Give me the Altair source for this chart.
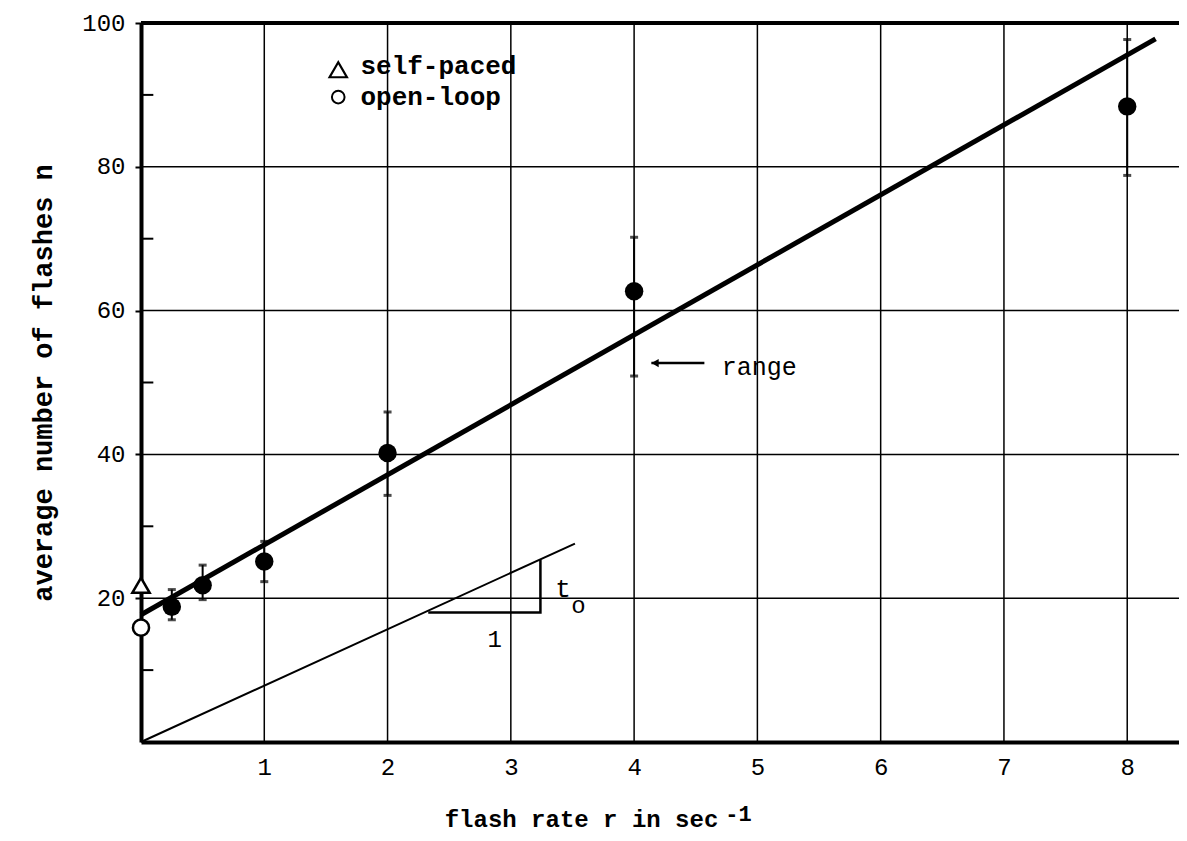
import altair as alt
import pandas as pd

# ---------------- data ----------------
rate = [0.25, 0.5, 1.0, 2.0, 4.0, 8.0]
mean_n = [18.8, 21.8, 25.1, 40.2, 62.7, 88.4]
range_lo = [17.0, 19.8, 22.3, 34.3, 50.9, 78.8]
range_hi = [21.2, 24.6, 27.9, 45.9, 70.2, 97.7]

selfpaced_r = [0.0]
selfpaced_n = [21.8]
openloop_r = [0.0]
openloop_n = [15.9]

fit_r = [0.0, 8.23]
fit_n = [17.7, 97.8]

slope_r = [0.0, 3.52]
slope_n = [0.0, 27.6]

tri_r = [2.33, 3.24, 3.24]
tri_n = [18.0, 18.0, 25.3]

grid_x = [1, 2, 3, 4, 5, 6, 7, 8]
grid_y = [20, 40, 60, 80]
minor_y = [10, 30, 50, 70, 90]
x_ticks = [1, 2, 3, 4, 5, 6, 7, 8]
y_ticks = [20, 40, 60, 80, 100]

XMAX = 8.42
FONT = "Liberation Mono"

xs = alt.Scale(domain=[0, XMAX], nice=False, zero=False)
ys = alt.Scale(domain=[0, 100], nice=False, zero=False)

xaxis = alt.Axis(values=x_ticks, grid=False, ticks=False, domainWidth=4,
                 domainColor="black", labelFont=FONT, labelFontSize=24,
                 labelColor="black", labelPadding=13,
                 title="flash rate r in sec", titleFont=FONT, titleFontSize=24,
                 titleFontWeight="bold", titleColor="black",
                 titleX=440, titleY=84, titleAlign="center", titleBaseline="alphabetic")
yaxis = alt.Axis(values=y_ticks, grid=False, ticks=True, tickSize=6, tickWidth=2,
                 tickColor="black", domainWidth=4, domainColor="black",
                 labelFont=FONT, labelFontSize=24, labelColor="black", labelPadding=10,
                 title="average number of flashes n", titleFont=FONT, titleFontSize=27,
                 titleFontWeight="bold", titleColor="black", titlePadding=24)


def X(f, **kw):
    return alt.X(f, type="quantitative", scale=xs, axis=xaxis, **kw)


def Y(f, **kw):
    return alt.Y(f, type="quantitative", scale=ys, axis=yaxis, **kw)


def X2(f):
    return alt.X2(f)


def Y2(f):
    return alt.Y2(f)


pts = pd.DataFrame({"r": rate, "n": mean_n, "lo": range_lo, "hi": range_hi})
gx = pd.DataFrame({"gx": grid_x, "y0": 0, "y1": 100})
gy = pd.DataFrame({"gy": grid_y, "x0": 0, "x1": XMAX})
top = pd.DataFrame({"gy": [100], "x0": [0], "x1": [XMAX]})
mn = pd.DataFrame({"gy": minor_y, "x0": 0, "x1": 0.1})
fit = pd.DataFrame({"r": fit_r, "n": fit_n})
slope = pd.DataFrame({"r": slope_r, "n": slope_n})
tri = pd.DataFrame({"r": tri_r, "n": tri_n, "o": [0, 1, 2]})
sp = pd.DataFrame({"r": selfpaced_r, "n": selfpaced_n})
ol = pd.DataFrame({"r": openloop_r, "n": openloop_n})

# annotation anchors (data coordinates)
leg_sym = pd.DataFrame({"r": [1.6], "n": [93.5]})
leg_circ = pd.DataFrame({"r": [1.6], "n": [89.7]})
leg_txt = pd.DataFrame({"r": [1.78, 1.78], "n": [94.0, 89.7],
                        "t": ["self-paced", "open-loop"]})
range_txt = pd.DataFrame({"r": [4.71], "n": [52.2], "t": ["range"]})
arrow = pd.DataFrame({"r": [4.14, 4.57], "n": [52.7, 52.7]})
arrow_head = pd.DataFrame({"r": [4.17], "n": [52.7]})
t_lbl = pd.DataFrame({"r": [3.36], "n": [21.3], "t": ["t"]})
o_lbl = pd.DataFrame({"r": [3.49], "n": [18.9], "t": ["o"]})
one_lbl = pd.DataFrame({"r": [2.87], "n": [14.2], "t": ["1"]})
sup_lbl = pd.DataFrame({"r": [4.74], "n": [-10.0], "t": ["-1"]})

layers = [
    alt.Chart(gx).mark_rule(color="black", strokeWidth=1.5).encode(
        x=X("gx"), y=Y("y0"), y2=Y2("y1")),
    alt.Chart(gy).mark_rule(color="black", strokeWidth=1.5).encode(
        y=Y("gy"), x=X("x0"), x2=X2("x1")),
    alt.Chart(top).mark_rule(color="black", strokeWidth=4).encode(
        y=Y("gy"), x=X("x0"), x2=X2("x1")),
    alt.Chart(mn).mark_rule(color="black", strokeWidth=2).encode(
        y=Y("gy"), x=X("x0"), x2=X2("x1")),
    alt.Chart(fit).mark_line(color="black", strokeWidth=5).encode(x=X("r"), y=Y("n")),
    alt.Chart(slope).mark_line(color="black", strokeWidth=2).encode(x=X("r"), y=Y("n")),
    alt.Chart(tri).mark_line(color="black", strokeWidth=2.5).encode(
        x=X("r"), y=Y("n"), order="o:Q"),
    alt.Chart(pts).mark_rule(color="black", strokeWidth=2).encode(
        x=X("r"), y=Y("lo"), y2=Y2("hi")),
    alt.Chart(pts).mark_tick(color="black", thickness=3, size=8, orient="horizontal").encode(
        x=X("r"), y=Y("lo")),
    alt.Chart(pts).mark_tick(color="black", thickness=3, size=8, orient="horizontal").encode(
        x=X("r"), y=Y("hi")),
    alt.Chart(pts).mark_point(shape="circle", filled=True, color="black", size=340,
                              opacity=1).encode(x=X("r"), y=Y("n")),
    alt.Chart(sp).mark_point(shape="triangle-up", fill="white", stroke="black",
                             strokeWidth=2.5, size=300, opacity=1, fillOpacity=1).encode(
        x=X("r"), y=Y("n")),
    alt.Chart(ol).mark_point(shape="circle", fill="white", stroke="black",
                             strokeWidth=2.5, size=260, opacity=1, fillOpacity=1).encode(
        x=X("r"), y=Y("n")),
    alt.Chart(leg_sym).mark_point(shape="triangle-up", filled=False, color="black",
                                  strokeWidth=2.2, size=300, opacity=1).encode(
        x=X("r"), y=Y("n")),
    alt.Chart(leg_circ).mark_point(shape="circle", filled=False, color="black",
                                   strokeWidth=2, size=160, opacity=1).encode(
        x=X("r"), y=Y("n")),
    alt.Chart(leg_txt).mark_text(font=FONT, fontSize=26, fontWeight="bold", align="left",
                                 baseline="middle", color="black").encode(
        x=X("r"), y=Y("n"), text="t:N"),
    alt.Chart(range_txt).mark_text(font=FONT, fontSize=25, align="left",
                                   baseline="middle", color="black").encode(
        x=X("r"), y=Y("n"), text="t:N"),
    alt.Chart(arrow).mark_line(color="black", strokeWidth=2.5).encode(x=X("r"), y=Y("n")),
    alt.Chart(arrow_head).mark_point(shape="triangle-left", filled=True, color="black",
                                     size=70, opacity=1).encode(x=X("r"), y=Y("n")),
    alt.Chart(t_lbl).mark_text(font=FONT, fontSize=26, align="left", baseline="middle",
                               color="black").encode(x=X("r"), y=Y("n"), text="t:N"),
    alt.Chart(o_lbl).mark_text(font=FONT, fontSize=24, align="left", baseline="middle",
                               color="black").encode(x=X("r"), y=Y("n"), text="t:N"),
    alt.Chart(one_lbl).mark_text(font=FONT, fontSize=24, align="center", baseline="middle",
                                 color="black").encode(x=X("r"), y=Y("n"), text="t:N"),
    alt.Chart(sup_lbl).mark_text(font=FONT, fontSize=22, fontWeight="bold", align="left",
                                 baseline="middle", color="black").encode(
        x=X("r"), y=Y("n"), text="t:N"),
]

chart = alt.layer(*layers).properties(
    width=1038, height=719,
    autosize=alt.AutoSizeParams(type="none"),
    padding={"left": 133, "top": 15, "right": 0, "bottom": 91},
    background="white",
).configure_view(strokeWidth=0)

chart.save("out.html", embed_options={"renderer": "svg", "actions": False})
